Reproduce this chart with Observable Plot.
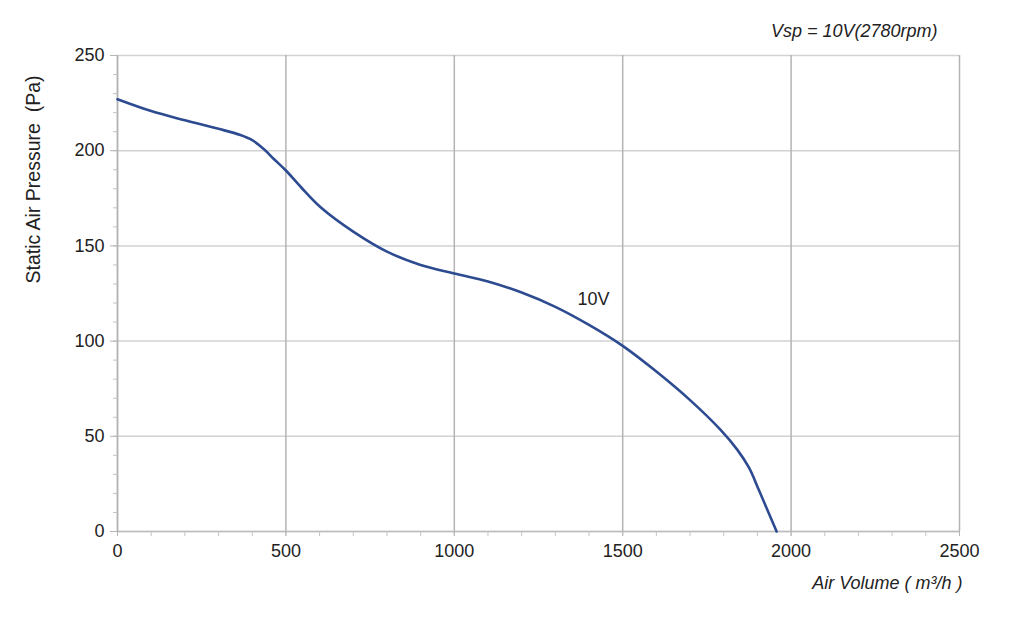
<!DOCTYPE html>
<html>
<head>
<meta charset="utf-8">
<script src="https://cdn.jsdelivr.net/npm/d3@7"></script>
<script src="https://cdn.jsdelivr.net/npm/@observablehq/plot@0.6"></script>
<style>
  html, body { margin: 0; padding: 0; background: #fff; }
  #chart svg { display: block; }
</style>
</head>
<body>
<div id="chart"></div>
<script>
// Airflow (m³/h) vs static pressure (Pa) at 10V
const airVolume = [0, 100, 200, 300, 365, 400, 435, 465, 500, 545, 603, 700, 800, 900, 1000, 1100, 1200, 1300, 1400, 1500, 1600, 1700, 1790, 1840, 1875, 1905, 1957];
const pressure  = [227, 220.8, 216, 211.5, 208.2, 205.5, 200.8, 195.5, 189.6, 180.8, 170.3, 157.5, 147, 140, 135.5, 131.3, 125.5, 118, 108.5, 97.5, 84, 69, 53.5, 43, 33.5, 21.5, 0];
const xTicks = [0, 500, 1000, 1500, 2000, 2500];
const yTicks = [0, 50, 100, 150, 200, 250];
const xMinorTicks = d3.range(0, 2501, 100);
const yMinorTicks = d3.range(0, 251, 10);
const curveLabels = [{x: 1413, y: 122, text: "10V"}];
const titleText = "Vsp = 10V(2780rpm)";
const xLabel = "Air Volume ( m³/h )";
const yLabel = "Static Air Pressure  (Pa)";

const data = airVolume.map((x, i) => ({x, y: pressure[i]}));

const chart = Plot.plot({
  width: 1024,
  height: 618,
  marginLeft: 117,
  marginRight: 65,
  marginTop: 55,
  marginBottom: 87,
  style: {fontFamily: "'Liberation Sans', Arial, sans-serif", fontSize: "18px", background: "#fff", color: "#222"},
  x: {domain: [0, 2500]},
  y: {domain: [0, 250]},
  marks: [
    Plot.gridY(yTicks, {stroke: "#d2d2d2", strokeOpacity: 1, strokeWidth: 1.5}),
    Plot.gridX(xTicks, {stroke: "#b4b4b4", strokeOpacity: 1, strokeWidth: 1.5}),
    Plot.ruleX([0], {stroke: "#b4b4b4", strokeWidth: 1.5}),
    Plot.ruleY([0], {stroke: "#bdbdbd", strokeWidth: 1.5}),
    Plot.axisY(yMinorTicks, {tickSize: 4, text: null, label: null, stroke: "#c4c4c4"}),
    Plot.axisY(yTicks, {tickSize: 7, tickPadding: 6, fontSize: 18, tickFormat: d3.format("d"), label: null, stroke: "#b4b4b4", fill: "#222"}),
    Plot.axisX(xMinorTicks, {tickSize: 5, text: null, label: null, stroke: "#c4c4c4"}),
    Plot.axisX(xTicks, {tickSize: 5, tickPadding: 8, fontSize: 18, tickFormat: d3.format("d"), label: null, stroke: "#b4b4b4", fill: "#222"}),
    Plot.line(data, {x: "x", y: "y", curve: "catmull-rom", stroke: "#2d4b91", strokeWidth: 2.6}),
    Plot.text(curveLabels, {x: "x", y: "y", text: "text", fontSize: 18, fill: "#222"}),
    Plot.text([titleText], {frameAnchor: "top-right", dx: -22, dy: -31, fontSize: 18, fontStyle: "italic", fill: "#222", textAnchor: "end"}),
    Plot.text([xLabel], {frameAnchor: "bottom-right", dx: 3, dy: 57, fontSize: 18, fontStyle: "italic", fill: "#222", textAnchor: "end"}),
    Plot.text([yLabel], {frameAnchor: "top-left", dx: -91, dy: 124, rotate: -90, fontSize: 19.5, fill: "#222", textAnchor: "middle"})
  ]
});
document.getElementById("chart").appendChild(chart);
</script>
</body>
</html>
